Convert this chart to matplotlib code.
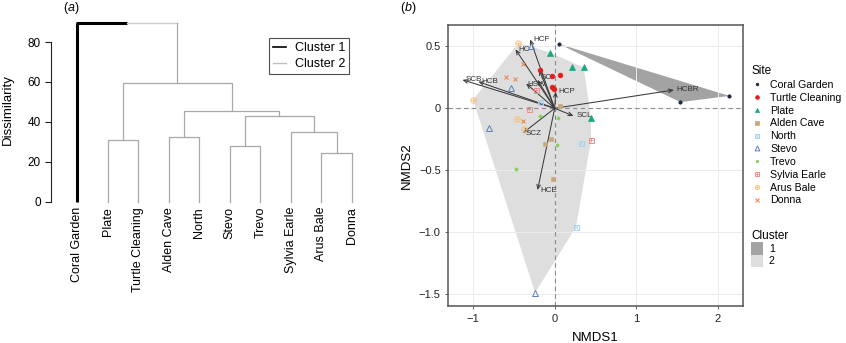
import numpy as np
import matplotlib
matplotlib.use('Agg')
import matplotlib.pyplot as plt
from matplotlib.lines import Line2D
from matplotlib.patches import Patch, Polygon

plt.rcParams['font.family'] = ['Liberation Sans', 'DejaVu Sans']
plt.rcParams['mathtext.fontset'] = 'custom'
plt.rcParams['mathtext.it'] = 'Liberation Sans:italic'
plt.rcParams['mathtext.rm'] = 'Liberation Sans'

W, H, DPI = 846, 343, 100

# ---------------- data: dendrogram (panel a) ----------------
leaf_labels = ['Coral Garden', 'Plate', 'Turtle Cleaning', 'Alden Cave', 'North',
               'Stevo', 'Trevo', 'Sylvia Earle', 'Arus Bale', 'Donna']
# negative = leaf (1-based position), positive = earlier merge (1-based)
merge_left = [-9, -6, -2, -4, -8, 2, 4, 3, -1]
merge_right = [-10, -7, -3, -5, 1, 5, 6, 7, 8]
merge_height = [24.2, 28.0, 31.0, 32.2, 34.7, 42.7, 45.2, 59.3, 89.3]
dend_yticks = [0, 20, 40, 60, 80]
cluster_labels = ['Cluster 1', 'Cluster 2']

# ---------------- data: NMDS (panel b) ----------------
site_names = ['Coral Garden', 'Turtle Cleaning', 'Plate', 'Alden Cave', 'North',
              'Stevo', 'Trevo', 'Sylvia Earle', 'Arus Bale', 'Donna']
site_cluster = [1, 2, 2, 2, 2, 2, 2, 2, 2, 2]
point_site = (['Coral Garden'] * 3 + ['Turtle Cleaning'] * 5 + ['Plate'] * 4 +
              ['Alden Cave'] * 4 + ['North'] * 3 + ['Stevo'] * 4 + ['Trevo'] * 4 +
              ['Sylvia Earle'] * 3 + ['Arus Bale'] * 4 + ['Donna'] * 4)
point_nmds1 = [0.05, 1.54, 2.14,
               -0.18, -0.03, 0.06, -0.03, -0.01,
               -0.06, 0.21, 0.355, 0.445,
               0.065, -0.045, -0.115, -0.02,
               -0.18, 0.32, 0.26,
               -0.29, -0.535, -0.81, -0.24,
               -0.18, 0.045, 0.03, -0.48,
               -0.23, -0.31, 0.445,
               -0.445, -1.0, -0.46, -0.38,
               -0.60, -0.49, -0.39, -0.385]
point_nmds2 = [0.52, 0.05, 0.10,
               0.31, 0.26, 0.27, 0.17, 0.16,
               0.45, 0.33, 0.33, -0.08,
               0.015, -0.25, -0.29, -0.57,
               0.05, -0.28, -0.96,
               0.50, 0.167, -0.16, -1.49,
               -0.06, -0.08, -0.30, -0.49,
               0.15, -0.005, -0.26,
               0.525, 0.07, -0.083, -0.165,
               0.25, 0.24, 0.36, -0.10]
arrow_names = ['HCF', 'HC', 'SCB', 'HCB', 'HSW', 'SC', '', 'HCP', 'SCL', 'SCZ', 'HCE', 'HCBR']
arrow_nmds1 = [-0.30, -0.48, -1.13, -0.935, -0.35, -0.21, -0.19, 0.012, 0.23, -0.39, -0.21, 1.46]
arrow_nmds2 = [0.556, 0.476, 0.23, 0.215, 0.20, 0.23, 0.31, 0.134, -0.062, -0.20, -0.66, 0.148]
nmds_xticks = [-1, 0, 1, 2]
nmds_yticks = [0.5, 0, -0.5, -1.0, -1.5]
nmds_yticklabels = ['0.5', '0', '\u22120.5', '\u22121.0', '\u22121.5']

# ---------------- styles ----------------
site_style = {
    'Coral Garden':    dict(color='#1c2541', marker='o', ms=2.4, fill=True),
    'Turtle Cleaning': dict(color='#e41a1c', marker='o', ms=3.4, fill=True),
    'Plate':           dict(color='#16a97e', marker='^', ms=3.7, fill=True),
    'Alden Cave':      dict(color='#c6a97c', marker='s', ms=3.3, fill=True),
    'North':           dict(color='#a9d3ef', marker='s', ms=3.6, fill=False, over='x'),
    'Stevo':           dict(color='#5b7fc0', marker='^', ms=4.3, fill=False),
    'Trevo':           dict(color='#86cf56', marker='o', ms=2.2, fill=True),
    'Sylvia Earle':    dict(color='#f08a8a', marker='s', ms=3.6, fill=False, over='+'),
    'Arus Bale':       dict(color='#f9bf7a', marker='o', ms=3.8, fill=False, over='+'),
    'Donna':           dict(color='#ef7d3c', marker='x', ms=3.4, fill=True),
}
cluster_fill = {1: '#a3a3a3', 2: '#dedede'}

fig = plt.figure(figsize=(W / DPI, H / DPI), dpi=DPI)


def px_axes(l, t, r, b):
    return fig.add_axes([l / W, 1 - b / H, (r - l) / W, (b - t) / H])


# ================= panel a =================
ax1 = px_axes(50.7, 15.1, 365, 201.7)
n = len(leaf_labels)
leaf_x = np.arange(1, n + 1)
node_x, node_h = [], []


def child(c):
    if c < 0:
        return leaf_x[-c - 1], 0.0
    return node_x[c - 1], node_h[c - 1]


grey = '#a8a8a8'
for k, (l, r, h) in enumerate(zip(merge_left, merge_right, merge_height)):
    lx, lh = child(l)
    rx, rh = child(r)
    root = (k == len(merge_height) - 1)
    if root:
        mid = (lx + rx) / 2
        ax1.plot([lx, lx], [lh, h], color='black', lw=2.2, clip_on=False, solid_capstyle='butt')
        ax1.plot([lx - 0.035, mid], [h, h], color='black', lw=2.2, clip_on=False, solid_capstyle='butt')
        ax1.plot([mid, rx], [h, h], color='#cfcfcf', lw=1.0, clip_on=False)
        ax1.plot([rx, rx], [rh, h], color=grey, lw=0.9, clip_on=False)
    else:
        ax1.plot([lx, lx, rx, rx], [lh, h, h, rh], color=grey, lw=0.9, clip_on=False)
    node_x.append((lx + rx) / 2)
    node_h.append(h)

ax1.set_xlim(0.128, 10.433)
ax1.set_ylim(0, 93.49)
for s in ['top', 'right', 'bottom']:
    ax1.spines[s].set_visible(False)
ax1.spines['left'].set_bounds(0, 80)
ax1.spines['left'].set_color('#222222')
ax1.spines['left'].set_linewidth(0.8)
ax1.set_yticks(dend_yticks)
ax1.tick_params(axis='y', length=4, width=0.8, pad=3, labelsize=8.5, color='#222222')
ax1.set_xticks(leaf_x)
ax1.set_xticklabels(leaf_labels, rotation=90, fontsize=9, va='top')
ax1.tick_params(axis='x', length=0, pad=3.8)
fig.text(7.5 / W, 1 - 110 / H, 'Dissimilarity', rotation=90, fontsize=9.5,
         ha='center', va='center')
fig.text(71.5 / W, 1 - 7.5 / H, r'($\mathit{a}$)', fontsize=9, ha='center', va='center')

leg1 = ax1.legend(handles=[Line2D([], [], color='black', lw=1.2),
                           Line2D([], [], color='#bdbdbd', lw=1.0)],
                  labels=cluster_labels, loc='upper left',
                  bbox_to_anchor=(269.3 / W, 1 - 38.3 / H), bbox_transform=fig.transFigure,
                  fontsize=9, handlelength=1.05, handletextpad=0.7, labelspacing=0.33,
                  borderpad=0.3, borderaxespad=0, fancybox=False, frameon=True)
leg1.get_frame().set_edgecolor('#222222')
leg1.get_frame().set_linewidth(0.8)

# ================= panel b =================
ax2 = px_axes(448.3, 25, 743, 306)
ax2.set_xlim(-1.303, 2.306)
ax2.set_ylim(-1.597, 0.673)
ax2.set_axisbelow(True)
ax2.grid(True, color='#ebebeb', lw=0.7)
ax2.set_xticks(nmds_xticks)
ax2.set_yticks(nmds_yticks)
ax2.set_yticklabels(nmds_yticklabels)
ax2.tick_params(length=2.5, width=0.6, color='#444444', labelsize=8, labelcolor='#222222', pad=3)
for s in ax2.spines.values():
    s.set_color('#555555')
    s.set_linewidth(1.1)

px = np.array(point_nmds1)
py = np.array(point_nmds2)
ps = np.array(point_site)


def convex_hull(pts):
    pts = sorted(map(tuple, pts))

    def cross(o, a, b):
        return (a[0] - o[0]) * (b[1] - o[1]) - (a[1] - o[1]) * (b[0] - o[0])
    lower, upper = [], []
    for p in pts:
        while len(lower) >= 2 and cross(lower[-2], lower[-1], p) <= 0:
            lower.pop()
        lower.append(p)
    for p in reversed(pts):
        while len(upper) >= 2 and cross(upper[-2], upper[-1], p) <= 0:
            upper.pop()
        upper.append(p)
    return lower[:-1] + upper[:-1]


for cl in [2, 1]:
    members = [s for s, c in zip(site_names, site_cluster) if c == cl]
    mask = np.isin(ps, members)
    hull = convex_hull(np.column_stack([px[mask], py[mask]]))
    ax2.add_patch(Polygon(hull, closed=True, facecolor=cluster_fill[cl],
                          edgecolor='none', zorder=0.2))

ax2.axhline(0, color='#8a8a8a', lw=0.8, ls=(0, (4, 3)), zorder=0.6)
ax2.axvline(0, color='#8a8a8a', lw=0.8, ls=(0, (4, 3)), zorder=0.6)

label_offsets = {'HSW': (1, -1), 'SC': (2, 2)}
for name, ax_, ay_ in zip(arrow_names, arrow_nmds1, arrow_nmds2):
    ax2.annotate('', xy=(ax_, ay_), xytext=(0, 0),
                 arrowprops=dict(arrowstyle='->,head_length=0.3,head_width=0.13',
                                 color='#3a3a3a', lw=0.75, shrinkA=0, shrinkB=0),
                 zorder=2)
    if name:
        ax2.annotate(name, xy=(ax_, ay_), xytext=label_offsets.get(name, (2, 0)),
                     textcoords='offset points',
                     fontsize=5.8, color='#333333', ha='left', va='center', zorder=2)

site_handles = []
for s in site_names:
    st = site_style[s]
    m = ps == s
    kw = dict(ls='none', marker=st['marker'], ms=st['ms'], color=st['color'],
              mew=0.7 if not st['fill'] or st['marker'] == 'x' else 0.5)
    if not st['fill']:
        kw['mfc'] = 'none'
    h1, = ax2.plot(px[m], py[m], zorder=3, **kw)
    hs = [h1]
    if 'over' in st:
        h2, = ax2.plot(px[m], py[m], ls='none', marker=st['over'], ms=st['ms'] * 0.8,
                       color=st['color'], mew=0.55, zorder=3)
        hs.append(h2)
    site_handles.append(tuple(hs) if len(hs) > 1 else hs[0])

ax2.set_xlabel('NMDS1', fontsize=9.5, labelpad=6)
ax2.set_ylabel('NMDS2', fontsize=9.5, labelpad=4)
fig.text(408 / W, 1 - 7.5 / H, r'($\mathit{b}$)', fontsize=9, ha='center', va='center')

leg_site = fig.legend(site_handles, site_names, loc='upper left',
                      bbox_to_anchor=(751 / W, 1 - 65 / H), title='Site',
                      alignment='left', fontsize=7.6, title_fontsize=8.5,
                      frameon=False, markerscale=0.8, handlelength=1.2,
                      handletextpad=0.6, labelspacing=0.27, borderpad=0,
                      borderaxespad=0)
leg_cl = fig.legend([Patch(facecolor=cluster_fill[1]), Patch(facecolor=cluster_fill[2])],
                    ['1', '2'], loc='upper left',
                    bbox_to_anchor=(751 / W, 1 - 230 / H), title='Cluster',
                    alignment='left', fontsize=7.6, title_fontsize=8.5,
                    frameon=False, handlelength=1.1, handleheight=1.45,
                    handletextpad=0.6, labelspacing=0.0, borderpad=0,
                    borderaxespad=0)

fig.savefig('out.png', dpi=DPI)
